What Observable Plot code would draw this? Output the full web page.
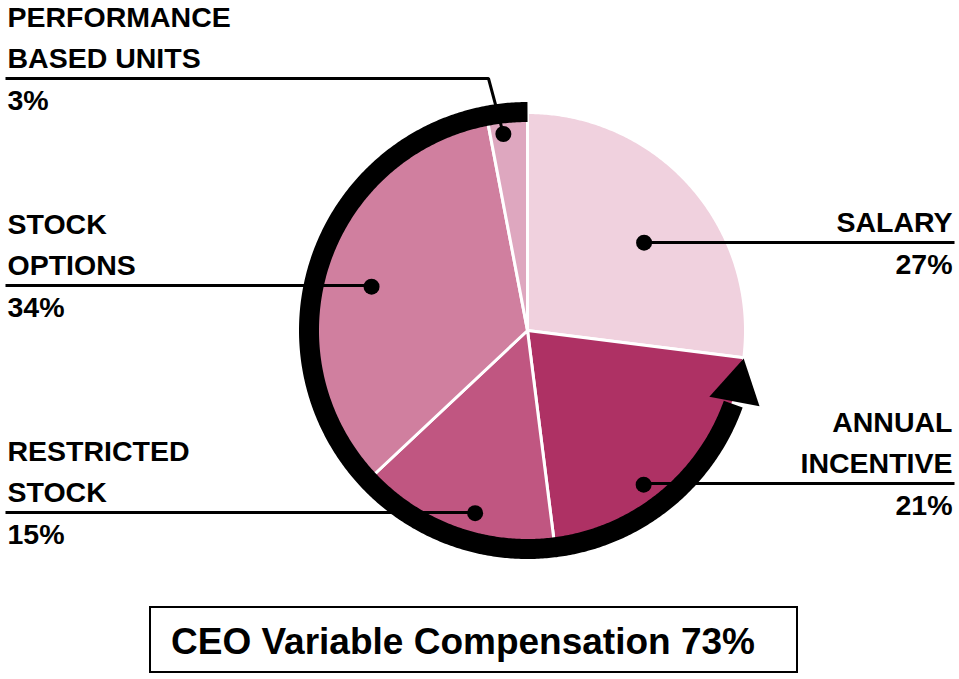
<!DOCTYPE html>
<html><head><meta charset="utf-8">
<script src="https://cdn.jsdelivr.net/npm/d3@7"></script>
<script src="https://cdn.jsdelivr.net/npm/@observablehq/plot@0.6"></script>
<style>
body{margin:0;background:#fff;font-family:"Liberation Sans",Arial,sans-serif;}
#wrap{position:relative;width:959px;height:679px;overflow:hidden;}
#caption{position:absolute;left:149px;top:606px;width:645px;height:63px;border:2px solid #000;box-sizing:content-box;}
#caption span{position:absolute;left:20px;top:50%;transform:translateY(-46%);font-weight:bold;font-size:37px;white-space:nowrap;color:#000;}
</style></head><body>
<div id="wrap"><div id="chart"></div><div id="caption"><span id="captext"></span></div></div>
<script>
// ---- data ----
const categories = ["Salary", "Annual Incentive", "Restricted Stock", "Stock Options", "Performance Based Units"];
const labelLines = [["SALARY"], ["ANNUAL", "INCENTIVE"], ["RESTRICTED", "STOCK"], ["STOCK", "OPTIONS"], ["PERFORMANCE", "BASED UNITS"]];
const shares = [27, 21, 15, 34, 3];
const colors = ["#f0d1de", "#ae3164", "#c05681", "#d07f9f", "#dea7bf"];
const variableShare = 73;
const captionText = "CEO Variable Compensation 73%";

// ---- layout ----
const W = 959, H = 600;
const cx = 527, cy = 330, R = 218;
const arcCx = 527, arcCy = 330, arcR = 218.5, arcW = 20;
const font = "'Liberation Sans', Arial, sans-serif";
const fs = 28.5;
// callout anchors: dot in polar coords around pie centre, horizontal line y, side
const callouts = [
  {side: "right", dotA: 53, dotR: 146, lineY: 242},
  {side: "right", dotA: 143, dotR: 193, lineY: 483},
  {side: "left", dotA: 196, dotR: 190, lineY: 512},
  {side: "left", dotA: 285.7, dotR: 162, lineY: 285},
  {side: "left", dotA: 353, dotR: 198, lineY: 78, elbowX: 488}
];
const textLeftX = 7, textRightX = 952, lineLeftX = 5, lineRightX = 954;

const rad = d => d * Math.PI / 180;
const px = (a, r, x0 = cx) => x0 + r * Math.sin(rad(a));
const py = (a, r, y0 = cy) => y0 - r * Math.cos(rad(a));

// pie slices from shares
const arcs = d3.pie().sort(null).value(d => d)(shares);
const slicePts = [];
arcs.forEach((a, i) => {
  const a0 = a.startAngle * 180 / Math.PI, a1 = a.endAngle * 180 / Math.PI;
  const n = Math.max(2, Math.ceil((a1 - a0) / 0.5));
  slicePts.push({k: categories[i], x: cx, y: cy});
  for (let j = 0; j <= n; j++) {
    const t = a0 + (a1 - a0) * j / n;
    slicePts.push({k: categories[i], x: px(t, R), y: py(t, R)});
  }
  slicePts.push({k: categories[i], x: cx, y: cy});
});

// variable-compensation arrow: from the top, counter-clockwise round to the end of salary
const fixedEnd = 360 * (100 - variableShare) / 100;   // where variable pay begins (end of salary)
const headLen = 12.5;                                 // degrees of arrow head
const bodyFrom = 360, bodyTo = fixedEnd + headLen;
const arrowPts = [];
const nb = Math.ceil((bodyFrom - bodyTo) / 0.5);
for (let j = 0; j <= nb; j++) {
  const t = bodyFrom - (bodyFrom - bodyTo) * j / nb;
  arrowPts.push({x: px(t, arcR, arcCx), y: py(t, arcR, arcCy)});
}
const headPts = [
  {x: px(bodyTo + 0.3, arcR - 25, arcCx), y: py(bodyTo + 0.3, arcR - 25, arcCy)},
  {x: px(fixedEnd + 0.2, arcR - 0.5, arcCx), y: py(fixedEnd + 0.2, arcR - 0.5, arcCy)},
  {x: px(bodyTo - 1.6, arcR + 25.6, arcCx), y: py(bodyTo - 1.6, arcR + 25.6, arcCy)}
];

// leader lines, dots and labels
const leaderPts = [], dots = [], textsL = [], textsR = [];
callouts.forEach((c, i) => {
  const dx = px(c.dotA, c.dotR), dy = py(c.dotA, c.dotR);
  dots.push({x: dx, y: dy});
  const endX = c.side === "left" ? lineLeftX : lineRightX;
  leaderPts.push({k: i, x: dx, y: dy});
  if (c.elbowX !== undefined) leaderPts.push({k: i, x: c.elbowX, y: c.lineY});
  else leaderPts.push({k: i, x: dx, y: c.lineY});
  leaderPts.push({k: i, x: endX, y: c.lineY});
  const tx = c.side === "left" ? textLeftX : textRightX;
  const target = c.side === "left" ? textsL : textsR;
  const lines = labelLines[i];
  lines.forEach((t, j) => {
    const off = (lines.length - 1 - j) * 41.5 + 10.5;
    target.push({x: tx, y: c.lineY - off, t});
  });
  target.push({x: tx, y: c.lineY + 31, t: shares[i] + "%"});
});

const textOpts = {x: "x", y: "y", text: "t", lineAnchor: "bottom", fontSize: fs, fontWeight: "bold", fontFamily: font, fill: "#000"};

const chart = Plot.plot({
  width: W, height: H,
  marginTop: 0, marginRight: 0, marginBottom: 0, marginLeft: 0,
  x: {domain: [0, W], range: [0, W], axis: null},
  y: {domain: [0, H], range: [0, H], axis: null},
  color: {domain: categories, range: colors},
  style: {background: "#fff", overflow: "visible"},
  marks: [
    Plot.line(slicePts, {x: "x", y: "y", z: "k", fill: "k", stroke: "#fff", strokeWidth: 3, strokeLinejoin: "miter", curve: "linear"}),
    Plot.line(arrowPts, {x: "x", y: "y", stroke: "#000", strokeWidth: arcW, strokeLinecap: "butt", curve: "linear"}),
    Plot.line(headPts, {x: "x", y: "y", fill: "#000", stroke: "none", curve: "linear-closed"}),
    Plot.line(leaderPts, {x: "x", y: "y", z: "k", stroke: "#000", strokeWidth: 3, strokeLinecap: "butt", strokeLinejoin: "miter", curve: "linear"}),
    Plot.dot(dots, {x: "x", y: "y", r: 8, fill: "#000", stroke: "none"}),
    Plot.text(textsL, {...textOpts, textAnchor: "start"}),
    Plot.text(textsR, {...textOpts, textAnchor: "end"})
  ]
});
document.getElementById("chart").appendChild(chart);
document.getElementById("captext").textContent = captionText;
</script>
</body></html>
